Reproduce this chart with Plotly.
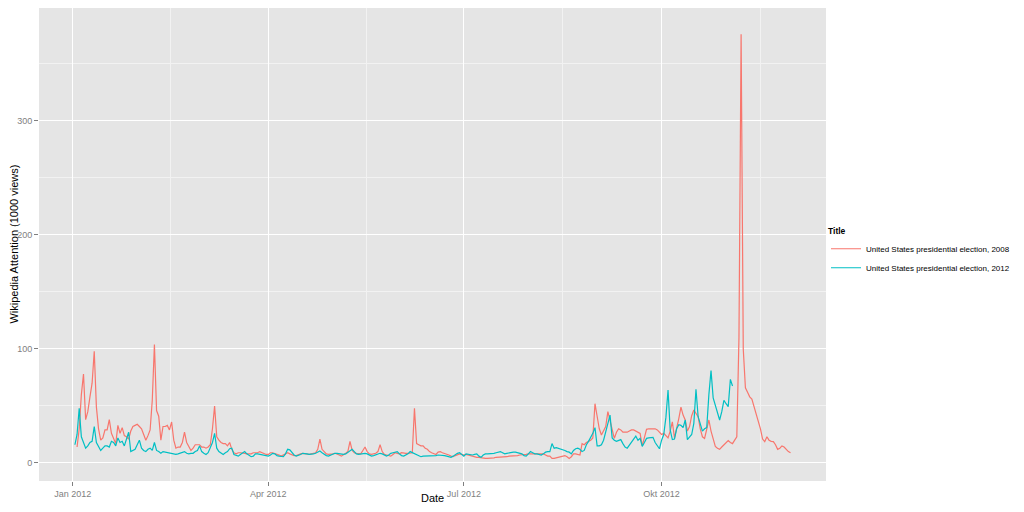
import pandas as pd
import plotly.graph_objects as go

series_names = ["United States presidential election, 2008",
                "United States presidential election, 2012"]

start_2008 = "2012-01-03"
start_2012 = "2012-01-02"

views_2008 = [
    14, 30, 60, 78, 38, 45, 58, 70, 98, 49, 30, 20, 22, 29, 29, 38, 26, 22, 17, 33,
    26, 31, 24, 23, 21, 28, 32, 33, 34, 32, 30, 25, 20, 24, 29, 55, 104, 46, 41, 20,
    32, 32, 33, 29, 36, 20, 13, 14, 14, 18, 27, 18, 14, 11, 13, 16, 16, 16, 14, 14,
    13, 14, 16, 30, 50, 23, 20, 18, 17, 17, 15, 18, 12, 9, 8, 9, 9, 9, 8.5, 8,
    8, 8, 9, 9, 9, 10, 9, 8, 7.5, 7.5, 9, 9, 8.5, 8, 7, 6, 7, 8, 9, 8,
    7, 6.5, 6.5, 7.5, 8, 8.5, 8, 7.5, 7.5, 8, 8.5, 9, 12, 21, 12, 10, 8, 7.5, 7.5, 8,
    8.5, 8, 7, 6, 7, 8.5, 10, 19, 11, 9, 8.5, 8, 8, 11, 14, 10, 8, 7.5, 8, 8.5,
    10, 16, 10, 7.5, 7, 6.5, 6, 7.5, 9, 8.5, 8, 9, 8.5, 8.5, 8.5, 9, 9, 48, 17, 16,
    15, 15, 13, 12, 10, 9, 8, 7.5, 9.5, 10, 9, 8.5, 8, 7, 6, 5.5, 6.5, 7.5, 8, 7.5,
    7, 7.5, 7, 6, 5.5, 5.5, 5, 5, 4.5, 4.5, 4, 4, 4, 4.5, 4.5, 5, 5, 5.5, 5.5, 5.5,
    5.5, 6, 6, 6, 6, 6.5, 7, 7, 7.5, 7.5, 8, 8, 8, 8, 8.5, 8.5, 8.5, 8, 7, 6,
    6, 4, 4, 4.5, 5, 5.5, 6, 6.5, 5.5, 4, 5.5, 8, 8, 7.5, 7, 17, 16, 18, 19, 20,
    22, 52, 41, 30, 24.5, 28, 32, 45, 38, 30, 21.6, 27, 30, 29, 27, 27, 27, 28, 29, 29,
    28, 27, 26, 15, 22, 29.5, 30, 30, 30.5, 30, 29, 27, 25, 26, 24, 22, 28, 36, 22, 30,
    39, 49, 42, 37.7, 28, 32, 41.5, 46.5, 44, 40.6, 30, 23, 21.6, 30, 37.7, 28, 20, 14.6, 13, 12,
    14, 16, 18, 19.6, 18, 17, 20, 23, 110, 376, 100, 66, 62, 58, 56, 50, 43.5, 36, 30, 21,
    18.7, 23, 20, 19, 18.7, 16, 12, 13, 15, 14, 12, 10, 9,
]

views_2012 = [
    16, 25, 48, 23, 18, 13, 15, 18, 19, 32, 18, 14, 11, 13, 15, 15, 14, 19, 18, 15,
    22, 18, 19, 15, 21, 27, 10, 11, 12, 16, 20, 13, 11, 10, 12, 13, 11, 18, 11, 10,
    8.5, 10, 9.5, 9, 9, 8.5, 8, 7.5, 8, 8.5, 9.5, 10, 8.5, 8, 8.5, 8.5, 10, 11, 15, 10,
    8.5, 7.5, 9, 13, 18, 26, 13, 10, 8.5, 7.5, 9, 10, 12.5, 13, 7.5, 6.5, 6, 7.5, 9, 10,
    8, 7, 5.5, 6, 8, 8, 7.5, 7.5, 7, 6.5, 6, 7, 8.5, 8, 6.5, 6, 5.5, 5.5, 8, 12,
    11.5, 9, 7, 6, 6.5, 7.5, 8.5, 8.5, 8, 7.5, 7.5, 8, 8.5, 9.5, 10.5, 9, 7.5, 6.5, 6, 7,
    8, 8.5, 8.5, 8, 7.5, 7.5, 8, 9.5, 11, 12, 10, 8, 7.5, 8, 8.5, 8.5, 8, 7, 6, 6.5,
    7, 8, 8.5, 8, 7, 6, 7, 8.5, 9, 9.5, 10, 8, 6.5, 6, 7, 8, 10, 9, 8.5, 7,
    6, 5.5, 6, 6, 6, 6, 6.5, 6, 6.5, 7, 7, 7, 6.5, 6, 5.5, 5, 6, 7.5, 8.5, 9,
    7.5, 6, 8, 7.5, 7, 7, 7.5, 8, 6, 5, 7, 8, 8, 8, 8, 8.5, 9, 9.5, 10, 9,
    8, 8.5, 9, 9, 9.5, 9.5, 9, 9, 8, 6.5, 6, 8, 10, 9, 8, 8, 7.5, 7, 8, 9.5,
    10, 10, 17, 13, 13.5, 13, 12, 12, 11, 10, 9.5, 8, 11, 12.5, 13, 12, 10, 11, 16, 19,
    22, 26, 31, 15, 15, 16, 20, 27, 35, 42, 22, 20, 19, 20, 20.5, 17, 14, 13, 16, 19,
    21, 23.5, 20, 21.6, 14.6, 18, 21.6, 22, 22.5, 22.5, 18, 14.6, 12.5, 20, 25, 40, 64, 29, 20.5, 21,
    30, 33.6, 33, 31, 37.7, 20.5, 23, 25, 34.8, 64.6, 40.6, 33, 28, 30, 31, 60, 81, 57, 51, 45,
    37.7, 45, 55, 52, 49.4, 73.4, 67.5,
]

x_tick_vals = ["2012-01-01", "2012-04-01", "2012-07-01", "2012-10-01"]
x_tick_text = ["Jan 2012", "Apr 2012", "Jul 2012", "Okt 2012"]
x_minor_vals = ["2012-02-15 12:00", "2012-05-16 12:00", "2012-08-16", "2012-11-16"]
y_tick_vals = [0, 100, 200, 300]
y_minor_vals = [50, 150, 250, 350]

colors = ["#F8766D", "#00BFC4"]

dates_2008 = pd.date_range(start_2008, periods=len(views_2008), freq="D")
dates_2012 = pd.date_range(start_2012, periods=len(views_2012), freq="D")

fig = go.Figure()
fig.add_trace(go.Scatter(x=dates_2008, y=views_2008, mode="lines", name=series_names[0],
                         line=dict(color=colors[0], width=1.2)))
fig.add_trace(go.Scatter(x=dates_2012, y=views_2012, mode="lines", name=series_names[1],
                         line=dict(color=colors[1], width=1.2)))

font_family = "Liberation Sans, Arial, sans-serif"

fig.update_layout(
    width=1024, height=512,
    margin=dict(l=39, r=198, t=8, b=31),
    paper_bgcolor="white",
    plot_bgcolor="#E5E5E5",
    font=dict(family=font_family, color="#000000"),
    showlegend=True,
    legend=dict(
        title=dict(text="<b>Title</b>", font=dict(size=8.5, color="#000000")),
        font=dict(size=8, color="#000000"),
        x=1.0, xanchor="left", y=0.545, yanchor="top",
        bgcolor="rgba(0,0,0,0)", itemwidth=30,
    ),
    xaxis=dict(
        range=["2011-12-16 07:00", "2012-12-16 12:00"],
        tickmode="array", tickvals=x_tick_vals, ticktext=x_tick_text,
        showgrid=True, gridcolor="#FFFFFF", gridwidth=1.2,
        minor=dict(tickmode="array", tickvals=x_minor_vals, showgrid=True,
                   gridcolor="#F2F2F2", gridwidth=0.6, ticks=""),
        ticks="outside", ticklen=4, tickcolor="#7F7F7F", tickwidth=1,
        tickfont=dict(size=9, color="#7F7F7F"),
        zeroline=False, showline=False,
        automargin=False,
    ),
    yaxis=dict(
        range=[-15.8, 399.1],
        tickmode="array", tickvals=y_tick_vals,
        showgrid=True, gridcolor="#FFFFFF", gridwidth=1.2,
        minor=dict(tickmode="array", tickvals=y_minor_vals, showgrid=True,
                   gridcolor="#F2F2F2", gridwidth=0.6, ticks=""),
        ticks="outside", ticklen=4, tickcolor="#7F7F7F", tickwidth=1,
        tickfont=dict(size=9, color="#7F7F7F"),
        zeroline=False, showline=False,
        automargin=False,
    ),
    annotations=[
        dict(text="Date", xref="paper", yref="paper", x=0.5, y=-0.036,
             xanchor="center", yanchor="middle", showarrow=False,
             font=dict(size=11, color="#000000")),
        dict(text="Wikipedia Attention (1000 views)", xref="paper", yref="paper",
             x=-0.033, y=0.5, xanchor="center", yanchor="middle", textangle=-90,
             showarrow=False, font=dict(size=11, color="#000000")),
    ],
)

fig.write_html("out.html", config={"displayModeBar": False},
               post_script="document.body.style.margin='0';document.body.style.overflow='hidden';")
